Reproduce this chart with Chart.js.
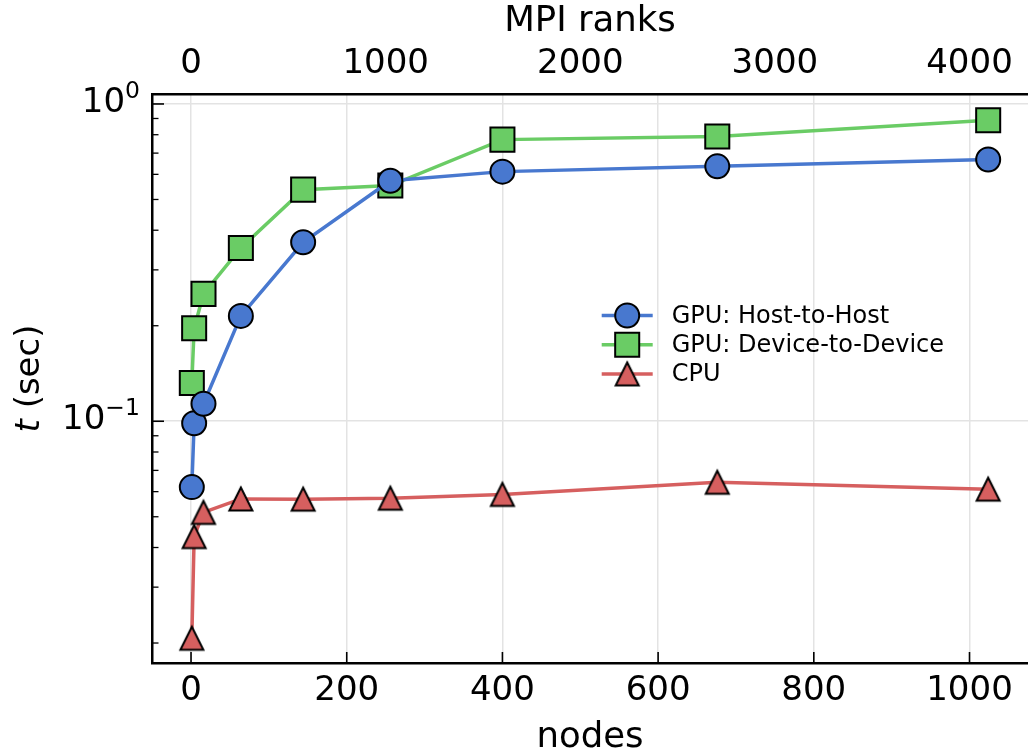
<!DOCTYPE html>
<html>
<head>
<meta charset="utf-8">
<script src="https://cdn.jsdelivr.net/npm/chart.js@4.4.0/dist/chart.umd.min.js"></script>
<style>
html,body{margin:0;padding:0;background:#ffffff;}
#wrap{width:1028px;height:754px;position:relative;}
</style>
</head>
<body>
<div id="wrap"><canvas id="c" width="1028" height="754"></canvas></div>
<script>
// ---- data ----
const nodes = [1, 4, 16, 64, 144, 256, 400, 676, 1024];
const gpuHostToHost = [0.0620, 0.0986, 0.1135, 0.2148, 0.3664, 0.573, 0.612, 0.636, 0.668];
const gpuDeviceToDevice = [0.132, 0.1964, 0.252, 0.3517, 0.537, 0.553, 0.772, 0.790, 0.888];
const cpu = [0.0207, 0.0433, 0.0516, 0.0569, 0.0568, 0.0572, 0.0588, 0.0642, 0.0611];
const seriesLabels = ['GPU: Host-to-Host', 'GPU: Device-to-Device', 'CPU'];
const xTicks = [0, 200, 400, 600, 800, 1000];
const rankTicks = [0, 1000, 2000, 3000, 4000];
const ranksPerNode = 4;
const yMajorTicks = [0.1, 1];
const yMajorExponents = ['\u22121', '0'];
const yMinorTicks = [0.02, 0.03, 0.04, 0.05, 0.06, 0.07, 0.08, 0.09, 0.2, 0.3, 0.4, 0.5, 0.6, 0.7, 0.8, 0.9];
const xTitle = 'nodes';
const topTitle = 'MPI ranks';

// ---- styles ----
const FONT = 'DejaVu Sans';
const BLUE = '#4878CF', GREEN = '#6ACC65', RED = '#D65F5F';
const X_MIN = -50.15, X_MAX = 1075.15, Y_MIN = 0.0173, Y_MAX = 1.075;

function triangleMarker(color) {
  const c = document.createElement('canvas');
  c.width = 32; c.height = 32;
  const g = c.getContext('2d');
  const m = 16, h = 11.5;
  g.beginPath();
  g.moveTo(m, m - h);
  g.lineTo(m - h, m + h);
  g.lineTo(m + h, m + h);
  g.closePath();
  g.fillStyle = color; g.fill();
  g.lineWidth = 2; g.lineJoin = 'miter'; g.strokeStyle = '#000'; g.stroke();
  return c;
}
const triImg = triangleMarker(RED);

const pts = arr => nodes.map((n, i) => ({x: n, y: arr[i]}));

const seriesStyles = [
  {color: BLUE, style: 'circle', radius: 12},
  {color: GREEN, style: 'rect', radius: 17},
  {color: RED, style: triImg, radius: 12}
];
const seriesData = [gpuHostToHost, gpuDeviceToDevice, cpu];

const datasets = seriesData.map((arr, i) => ({
  label: seriesLabels[i],
  data: pts(arr),
  borderColor: seriesStyles[i].color,
  backgroundColor: seriesStyles[i].color,
  borderWidth: 3.5,
  pointStyle: seriesStyles[i].style,
  pointRadius: seriesStyles[i].radius,
  pointBackgroundColor: seriesStyles[i].color,
  pointBorderColor: '#000000',
  pointBorderWidth: 2,
  tension: 0,
  clip: false,
  xAxisID: 'x',
  yAxisID: 'y'
}));

// inward tick marks, y tick labels with superscripts, y title with italic t, legend
const decorPlugin = {
  id: 'decor',
  afterDraw(chart) {
    const ctx = chart.ctx, a = chart.chartArea;
    const xs = chart.scales.x, ys = chart.scales.y;
    ctx.save();
    ctx.strokeStyle = '#000'; ctx.lineWidth = 1.6;
    xTicks.forEach(v => {
      const px = xs.getPixelForValue(v);
      ctx.beginPath(); ctx.moveTo(px, a.bottom); ctx.lineTo(px, a.bottom - 11); ctx.stroke();
    });
    yMajorTicks.forEach(v => {
      const py = ys.getPixelForValue(v);
      ctx.beginPath(); ctx.moveTo(a.left, py); ctx.lineTo(a.left + 12, py); ctx.stroke();
    });
    ctx.lineWidth = 1.3;
    yMinorTicks.forEach(v => {
      const py = ys.getPixelForValue(v);
      ctx.beginPath(); ctx.moveTo(a.left, py); ctx.lineTo(a.left + 6.5, py); ctx.stroke();
    });

    // y tick labels: 10 with superscript exponent
    ctx.fillStyle = '#000'; ctx.textBaseline = 'alphabetic'; ctx.textAlign = 'left';
    const fBase = '34px "' + FONT + '"', fExp = '23.5px "' + FONT + '"';
    yMajorTicks.forEach((v, k) => {
      const py = ys.getPixelForValue(v);
      ctx.font = fExp; const we = ctx.measureText(yMajorExponents[k]).width;
      ctx.font = fBase; const wb = ctx.measureText('10').width;
      const right = a.left - 12;
      const base = py + 8;
      ctx.font = fBase; ctx.fillText('10', right - we - wb, base);
      ctx.font = fExp; ctx.fillText(yMajorExponents[k], right - we, base - 14);
    });

    // y title: italic t + " (sec)"
    const cy = (a.top + a.bottom) / 2;
    const fIt = 'italic 34px "' + FONT + '"', fN = '34px "' + FONT + '"';
    ctx.font = fIt; const w1 = ctx.measureText('t').width;
    ctx.font = fN; const w2 = ctx.measureText(' (sec)').width;
    ctx.translate(38.5, cy);
    ctx.rotate(-Math.PI / 2);
    const sx = -(w1 + w2) / 2;
    ctx.font = fIt; ctx.fillText('t', sx, 0);
    ctx.font = fN; ctx.fillText(' (sec)', sx + w1, 0);
    ctx.restore();

    // legend
    ctx.save();
    const lx0 = a.left + 449.7, lx1 = a.left + 500.7, mx = (lx0 + lx1) / 2, tx = a.left + 519.7;
    const rowY0 = a.top + 221.5, rowDy = 29.2;
    ctx.font = '24px "' + FONT + '"';
    ctx.textBaseline = 'middle'; ctx.textAlign = 'left';
    seriesLabels.forEach((lab, i) => {
      const y = rowY0 + i * rowDy;
      const st = seriesStyles[i];
      ctx.strokeStyle = st.color; ctx.lineWidth = 3.5;
      ctx.beginPath(); ctx.moveTo(lx0, y); ctx.lineTo(lx1, y); ctx.stroke();
      ctx.fillStyle = st.color; ctx.strokeStyle = '#000'; ctx.lineWidth = 2;
      if (st.style === 'circle') {
        ctx.beginPath(); ctx.arc(mx, y, st.radius, 0, Math.PI * 2); ctx.fill(); ctx.stroke();
      } else if (st.style === 'rect') {
        const s = st.radius * Math.SQRT1_2;
        ctx.beginPath(); ctx.rect(mx - s, y - s, 2 * s, 2 * s); ctx.fill(); ctx.stroke();
      } else {
        ctx.drawImage(st.style, mx - st.style.width / 2, y - st.style.height / 2);
      }
      ctx.fillStyle = '#000';
      ctx.fillText(lab, tx, y + 1);
    });
    ctx.restore();
  }
};

Chart.defaults.font.family = FONT;
Chart.defaults.color = '#000';

const noPadH = s => { s.paddingLeft = 0; s.paddingRight = 0; };

new Chart(document.getElementById('c'), {
  type: 'line',
  data: {datasets},
  options: {
    responsive: false,
    animation: false,
    events: [],
    layout: {padding: 0, autoPadding: false},
    plugins: {legend: {display: false}, tooltip: {enabled: false}},
    scales: {
      x: {
        type: 'linear', position: 'bottom', min: X_MIN, max: X_MAX,
        afterBuildTicks: s => { s.ticks = xTicks.map(v => ({value: v})); },
        afterFit: s => { s.height = 91; noPadH(s); },
        ticks: {font: {size: 34}, color: '#000', padding: 8, autoSkip: false, maxRotation: 0,
                callback: v => String(v)},
        grid: {color: '#e3e3e3', lineWidth: 1.5, drawTicks: false},
        border: {color: '#000', width: 2.5},
        title: {display: true, text: xTitle, font: {size: 35.5}, color: '#000', padding: {top: 0, bottom: -5}}
      },
      x2: {
        type: 'linear', position: 'top', min: X_MIN * ranksPerNode, max: X_MAX * ranksPerNode,
        afterBuildTicks: s => { s.ticks = rankTicks.map(v => ({value: v})); },
        afterFit: s => { s.height = 94; noPadH(s); },
        ticks: {font: {size: 34}, color: '#000', padding: 9, autoSkip: false, maxRotation: 0,
                callback: v => String(v)},
        grid: {drawOnChartArea: false, drawTicks: false},
        border: {color: '#000', width: 2.5},
        title: {display: true, text: topTitle, font: {size: 35.5}, color: '#000', padding: {top: 0, bottom: 0}}
      },
      y: {
        type: 'logarithmic', position: 'left', min: Y_MIN, max: Y_MAX,
        afterBuildTicks: s => {
          s.ticks = yMinorTicks.concat(yMajorTicks).sort((p, q) => p - q).map(v => ({value: v, major: yMajorTicks.includes(v)}));
        },
        afterFit: s => { s.width = 152; s.paddingTop = 0; s.paddingBottom = 0; },
        ticks: {font: {size: 34}, color: '#000', padding: 10, autoSkip: false, callback: () => ''},
        grid: {drawTicks: false, lineWidth: 1.5,
               color: c => (c.tick && yMajorTicks.includes(c.tick.value)) ? '#e3e3e3' : 'rgba(0,0,0,0)'},
        border: {color: '#000', width: 2.5},
        title: {display: false}
      }
    }
  },
  plugins: [decorPlugin]
});
</script>
</body>
</html>
